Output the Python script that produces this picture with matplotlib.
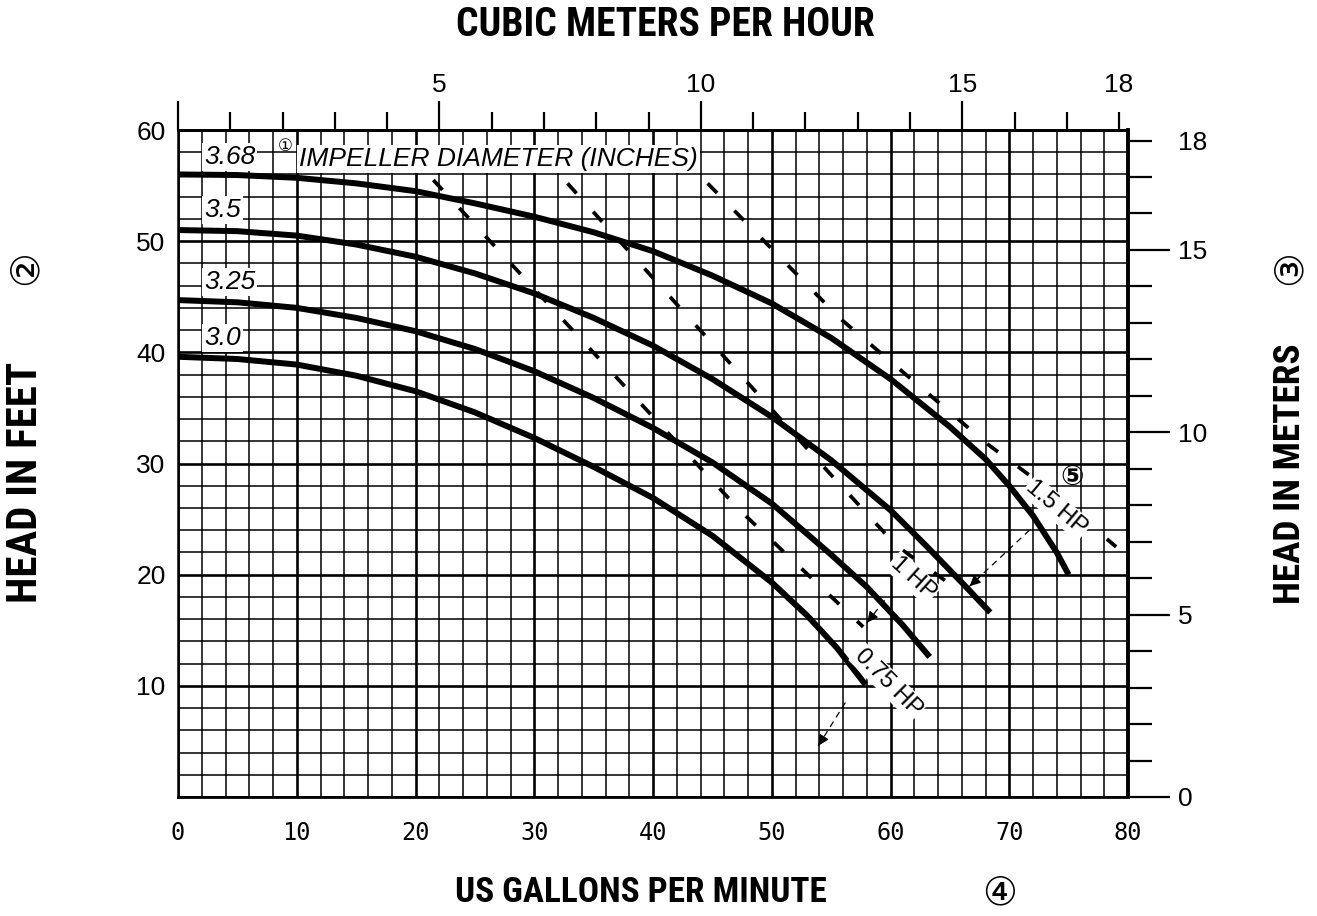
import os
import matplotlib
matplotlib.use('Agg')
import matplotlib.pyplot as plt
import numpy as np
from matplotlib import font_manager
from matplotlib.font_manager import FontProperties
from matplotlib.ticker import FixedLocator, FuncFormatter

# ---------------- data ----------------
# impeller diameter curves: flow (US gpm) vs head (ft)
gpm_368 = [0, 5, 10, 15, 20, 25, 30, 35, 40, 45, 50, 55, 60, 65, 68, 70, 72, 74, 75]
head_368 = [56.0, 55.95, 55.7, 55.2, 54.5, 53.4, 52.2, 50.8, 49.1, 46.9, 44.4, 41.3, 37.6, 33.3, 30.4, 28.0, 25.3, 22.0, 20.0]
gpm_35 = [0, 5, 10, 15, 20, 25, 30, 35, 40, 45, 50, 55, 60, 63, 66, 68.4]
head_35 = [51.0, 50.9, 50.5, 49.7, 48.6, 47.1, 45.3, 43.1, 40.6, 37.6, 34.2, 30.3, 25.8, 22.6, 19.3, 16.6]
gpm_325 = [0, 5, 10, 15, 20, 25, 30, 35, 40, 45, 50, 55, 58, 61, 63.3]
head_325 = [44.7, 44.5, 44.0, 43.1, 41.9, 40.3, 38.3, 35.9, 33.2, 30.1, 26.4, 21.8, 18.9, 15.5, 12.6]
gpm_30 = [0, 5, 10, 15, 20, 25, 30, 35, 40, 45, 50, 53, 55.5, 57.9]
head_30 = [39.6, 39.4, 38.9, 37.9, 36.5, 34.6, 32.3, 29.7, 26.9, 23.5, 19.3, 16.3, 13.4, 10.1]
curve_labels = ['3.68', '3.5', '3.25', '3.0']
curve_label_heads = [57.6, 52.8, 46.3, 41.3]

# horsepower lines (gpm, ft)
hp_labels = ['0.75 HP', '1 HP', '1.5 HP']
hp075_gpm = [21.5, 47.3, 57.7]
hp075_head = [55.5, 25.8, 15.3]
hp1_gpm = [32.8, 54.2, 60.5, 66.0]
hp1_head = [55.2, 29.9, 22.6, 18.4]
hp15_gpm = [44.6, 55.7, 68.1, 73.4, 79.0]
hp15_head = [55.2, 43.1, 31.8, 27.6, 22.5]
hp_label_gpm = [59.8, 61.9, 74.0]
hp_label_head = [10.3, 19.7, 26.0]
lead_gpm = [[56.2, 53.8], [59.5, 57.9], [71.7, 66.5]]
lead_head = [[8.5, 4.4], [17.7, 15.5], [24.0, 18.8]]

x_ticks = [0, 10, 20, 30, 40, 50, 60, 70, 80]
y_ticks = [10, 20, 30, 40, 50, 60]
m3h_major = [0, 5, 10, 15]
m3h_major_labels = ['', '5', '10', '15']
m_major = [0, 5, 10, 15]
m_major_labels = ['0', '5', '10', '15']
scale_end = 18          # last (short) tick that still carries a label on both metric scales
GPM_PER_M3H = 4.4029
M_PER_FT = 0.3048

# ---------------- fonts ----------------
SANS = 'Liberation Sans'
CIRC = ['DejaVu Sans', 'Noto Sans CJK JP']


def find_condensed_bold():
    prefs = ['liberationsansnarrow', 'robotocondensed', 'notosans', 'opensans', 'dejavusanscondensed', 'dejavusans']
    cands = []
    for f in font_manager.fontManager.ttflist:
        b = os.path.basename(f.fname).lower().replace('_', '').replace('-', '').replace(' ', '')
        if ('narrow' in b or 'condensed' in b) and 'bold' in b and 'italic' not in b \
                and 'oblique' not in b and 'mono' not in b and 'serif' not in b \
                and 'semi' not in b and 'extra' not in b:
            rank = next((i for i, p in enumerate(prefs) if b.startswith(p)), len(prefs))
            cands.append((rank, f.fname))
    if cands:
        cands.sort()
        return FontProperties(fname=cands[0][1])
    return FontProperties(family=SANS, weight='bold')


COND_FP = find_condensed_bold()

W, H = 1317, 916
fig = plt.figure(figsize=(W / 100, H / 100), dpi=100)
fig.patch.set_facecolor('white')
ax = fig.add_axes([178 / W, 1 - 797 / H, 950 / W, 667 / H])
ax.set_xlim(0, 80)
ax.set_ylim(0, 60)
ax.set_axisbelow(True)

# grid
ax.set_xticks(x_ticks)
ax.set_xticks(np.arange(0, 81, 2), minor=True)
ax.set_yticks([0] + y_ticks)
ax.set_yticks(np.arange(0, 61, 2), minor=True)
ax.set_yticklabels([''] + [str(v) for v in y_ticks])
ax.grid(which='minor', color='black', lw=1.1)
ax.grid(which='major', color='black', lw=1.9)
ax.tick_params(which='both', length=0)
ax.tick_params(axis='x', pad=17)
ax.tick_params(axis='y', pad=9)
for lab in ax.get_xticklabels():
    lab.set_fontfamily('DejaVu Sans Mono')
    lab.set_fontsize(17)
for lab in ax.get_yticklabels():
    lab.set_fontfamily(SANS)
    lab.set_fontsize(19)
ax.spines['left'].set_linewidth(1.8)
ax.spines['bottom'].set_linewidth(2.0)
ax.spines['top'].set_linewidth(2.0)
ax.spines['right'].set_linewidth(2.6)

# curves
for gx, hy in [(gpm_368, head_368), (gpm_35, head_35), (gpm_325, head_325), (gpm_30, head_30)]:
    ax.plot(gx, hy, color='black', lw=4.3, solid_capstyle='butt', solid_joinstyle='round', zorder=3)

# curve labels
for lab, hv in zip(curve_labels, curve_label_heads):
    ax.text(2.2, hv, lab, style='italic', fontsize=19, family=SANS, va='center', ha='left',
            bbox=dict(fc='white', ec='none', pad=1.5), zorder=4)
ax.text(10.2, 57.4, 'IMPELLER DIAMETER (INCHES)', style='italic', fontsize=19, family=SANS,
        va='center', ha='left', bbox=dict(fc='white', ec='none', pad=1.5), zorder=4)
ax.text(9.0, 58.6, '\u2460', fontsize=12, family=CIRC, va='center', ha='center', zorder=5)

# HP lines
for gx, hy in [(hp075_gpm, hp075_head), (hp1_gpm, hp1_head), (hp15_gpm, hp15_head)]:
    ax.plot(gx, hy, color='black', lw=2.7, linestyle=(0, (3.6, 6.6)), zorder=3)
for gx, hy in zip(lead_gpm, lead_head):
    ax.plot(gx, hy, color='black', lw=0.9, linestyle=(0, (5, 4)), zorder=3)
    ax.annotate('', xy=(gx[1], hy[1]),
                xytext=(gx[1] + (gx[0] - gx[1]) * 0.25, hy[1] + (hy[0] - hy[1]) * 0.25),
                arrowprops=dict(arrowstyle='-|>', color='black', lw=0.9, mutation_scale=16), zorder=5)
for lab, gx, hy, rot in zip(hp_labels, hp_label_gpm, hp_label_head, [-45, -42, -40]):
    ax.text(gx, hy, lab, fontsize=17, family=SANS, rotation=rot, rotation_mode='anchor',
            ha='center', va='center', bbox=dict(fc='white', ec='none', pad=1.0), zorder=6)
ax.text(75.3, 28.8, '\u2464', fontsize=20, fontweight='bold', family=CIRC, ha='center', va='center', zorder=6)


def end_label(v, pos):
    return str(scale_end) if abs(v - scale_end) < 1e-6 else ''


# top axis: cubic meters per hour
top = ax.secondary_xaxis('top', functions=(lambda x: x / GPM_PER_M3H, lambda m: m * GPM_PER_M3H))
top.set_xticks(m3h_major)
top.set_xticklabels(m3h_major_labels)
top.xaxis.set_minor_locator(FixedLocator(np.arange(0, scale_end + 1, 1)))
top.xaxis.set_minor_formatter(FuncFormatter(end_label))
top.tick_params(which='major', length=21, width=1.6, pad=3, labelsize=19, labelfontfamily=SANS)
top.tick_params(which='minor', length=13, width=1.6, pad=11, labelsize=19, labelfontfamily=SANS)
top.spines['top'].set_linewidth(2.0)

# right axis: meters
right = ax.secondary_yaxis('right', functions=(lambda f: f * M_PER_FT, lambda m: m / M_PER_FT))
right.set_yticks(m_major)
right.set_yticklabels(m_major_labels)
right.yaxis.set_minor_locator(FixedLocator(np.arange(0, scale_end + 1, 1)))
right.yaxis.set_minor_formatter(FuncFormatter(end_label))
right.tick_params(which='major', length=30, width=1.6, pad=6, labelsize=19, labelfontfamily=SANS)
right.tick_params(which='minor', length=17, width=1.6, pad=19, labelsize=19, labelfontfamily=SANS)
right.spines['right'].set_linewidth(2.6)

# axis titles
tkw = dict(ha='center', va='center', fontproperties=COND_FP)
t_top = fig.text(665 / W, 1 - 25 / H, 'CUBIC METERS PER HOUR', **tkw)
t_bot = fig.text(641 / W, 1 - 893 / H, 'US GALLONS PER MINUTE', **tkw)
t_left = fig.text(26 / W, 1 - 482 / H, 'HEAD IN FEET', rotation=90, **tkw)
t_right = fig.text(1290 / W, 1 - 474 / H, 'HEAD IN METERS', rotation=90, **tkw)
for t in (t_top, t_bot, t_left, t_right):
    t.set_fontsize(26)

fig.canvas.draw()
rend = fig.canvas.get_renderer()
for t, target, horiz in [(t_top, 420, True), (t_bot, 373, True), (t_left, 241, False), (t_right, 261, False)]:
    bb = t.get_window_extent(rend)
    size_now = bb.width if horiz else bb.height
    t.set_fontsize(t.get_fontsize() * target / size_now)

ckw = dict(fontsize=28, family=CIRC, ha='center', va='center')
fig.text(1000 / W, 1 - 893 / H, '\u2463', **ckw)
fig.text(26 / W, 1 - 268 / H, '\u2461', rotation=90, **ckw)
fig.text(1290 / W, 1 - 268 / H, '\u2462', rotation=90, **ckw)

fig.savefig('out.png', dpi=100, facecolor='white')
